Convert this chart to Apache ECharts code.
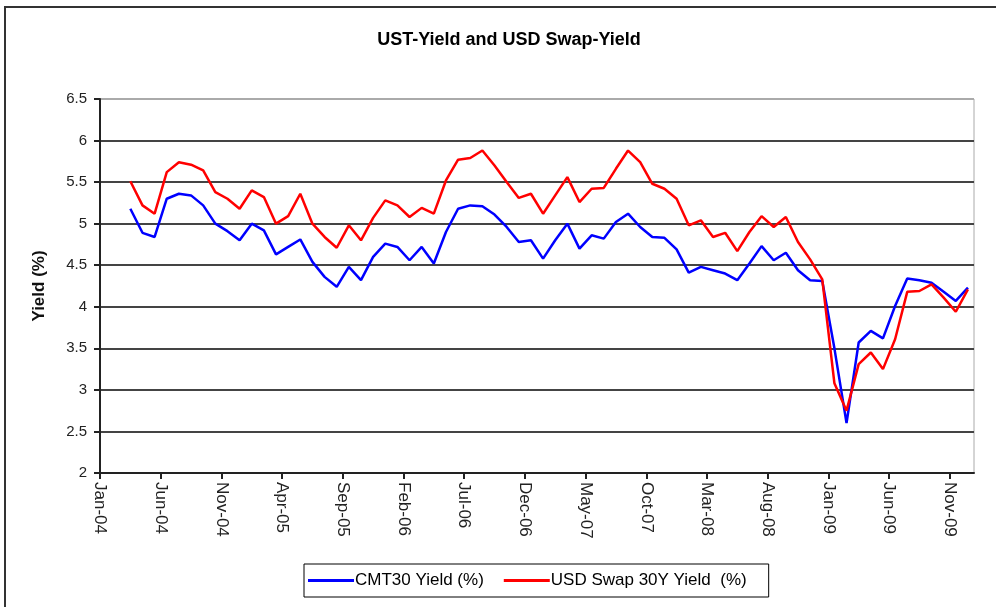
<!DOCTYPE html>
<html>
<head>
<meta charset="utf-8">
<title>UST-Yield and USD Swap-Yield</title>
<script src="https://cdn.jsdelivr.net/npm/echarts@6/dist/echarts.min.js"></script>
<style>
  html, body { margin: 0; padding: 0; background: #fff; }
  #chart { width: 996px; height: 607px; }
</style>
</head>
<body>
<div id="chart"></div>
<script>
// monthly observations, Mar-04 .. Dec-09
var months = [
  'Mar-04', 'Apr-04', 'May-04', 'Jun-04', 'Jul-04', 'Aug-04', 'Sep-04', 'Oct-04', 'Nov-04', 'Dec-04',
  'Jan-05', 'Feb-05', 'Mar-05', 'Apr-05', 'May-05', 'Jun-05', 'Jul-05', 'Aug-05', 'Sep-05', 'Oct-05', 'Nov-05', 'Dec-05',
  'Jan-06', 'Feb-06', 'Mar-06', 'Apr-06', 'May-06', 'Jun-06', 'Jul-06', 'Aug-06', 'Sep-06', 'Oct-06', 'Nov-06', 'Dec-06',
  'Jan-07', 'Feb-07', 'Mar-07', 'Apr-07', 'May-07', 'Jun-07', 'Jul-07', 'Aug-07', 'Sep-07', 'Oct-07', 'Nov-07', 'Dec-07',
  'Jan-08', 'Feb-08', 'Mar-08', 'Apr-08', 'May-08', 'Jun-08', 'Jul-08', 'Aug-08', 'Sep-08', 'Oct-08', 'Nov-08', 'Dec-08',
  'Jan-09', 'Feb-09', 'Mar-09', 'Apr-09', 'May-09', 'Jun-09', 'Jul-09', 'Aug-09', 'Sep-09', 'Oct-09', 'Nov-09', 'Dec-09'
]

var cmt30 = [
  5.18, 4.89, 4.84, 5.30, 5.36, 5.34, 5.22, 5.00, 4.91, 4.80,
  5.00, 4.92, 4.63, 4.72, 4.81, 4.54, 4.36, 4.24, 4.48, 4.32, 4.60, 4.76,
  4.72, 4.56, 4.72, 4.52, 4.90, 5.18, 5.22, 5.21, 5.11, 4.96, 4.78, 4.80,
  4.58, 4.80, 5.00, 4.70, 4.86, 4.82, 5.02, 5.12, 4.96, 4.84, 4.83, 4.69,
  4.41, 4.48, 4.44, 4.40, 4.32, 4.52, 4.73, 4.56, 4.65, 4.44, 4.32, 4.31,
  3.50, 2.60, 3.57, 3.71, 3.62, 4.01, 4.34, 4.32, 4.29, 4.18, 4.07, 4.23
]

var swap30 = [
  5.51, 5.22, 5.12, 5.62, 5.74, 5.71, 5.64, 5.38, 5.30, 5.18,
  5.40, 5.32, 5.00, 5.09, 5.36, 5.00, 4.84, 4.71, 4.98, 4.80, 5.07, 5.28,
  5.22, 5.08, 5.19, 5.12, 5.52, 5.77, 5.79, 5.88, 5.70, 5.50, 5.31, 5.36,
  5.12, 5.34, 5.56, 5.26, 5.42, 5.43, 5.66, 5.88, 5.74, 5.48, 5.42, 5.30,
  4.98, 5.04, 4.84, 4.89, 4.67, 4.90, 5.09, 4.96, 5.08, 4.78, 4.57, 4.33,
  3.08, 2.75, 3.31, 3.45, 3.25, 3.61, 4.18, 4.19, 4.27, 4.11, 3.94, 4.21
]

// x axis ticks, every 5 months from Jan-04
var tickLabels = [
  'Jan-04', 'Jun-04', 'Nov-04', 'Apr-05', 'Sep-05', 'Feb-06', 'Jul-06', 'Dec-06',
  'May-07', 'Oct-07', 'Mar-08', 'Aug-08', 'Jan-09', 'Jun-09', 'Nov-09'
]

var monthNames = ['Jan', 'Feb', 'Mar', 'Apr', 'May', 'Jun', 'Jul', 'Aug', 'Sep', 'Oct', 'Nov', 'Dec']

// months since Jan-04 (label start of month)
function monthIndex (label) {
  var parts = label.split('-')
  return monthNames.indexOf(parts[0]) + (parseInt(parts[1], 10) - 4) * 12
}

// points sit in the middle of their month
function toPoints (values) {
  return values.map(function (v, i) {
    return [monthIndex(months[i]) + 0.5, v]
  })
}

var tickValues = tickLabels.map(monthIndex)

var font = 'Liberation Sans, Arial, sans-serif'

var chart = echarts.init(document.getElementById('chart'))
chart.setOption(getOptions())

function getOptions () {
  return {
    animation: false,
    backgroundColor: '#fff',
    graphic: [{
      type: 'rect',
      shape: { x: 5, y: 7, width: 1000, height: 620 },
      style: { fill: 'none', stroke: '#333', lineWidth: 2 },
      silent: true
    }],
    title: {
      text: 'UST-Yield and USD Swap-Yield',
      left: 504,
      top: 26,
      textAlign: 'center',
      textStyle: { fontFamily: font, fontSize: 18, fontWeight: 'bold', color: '#000' }
    },
    legend: {
      left: 304,
      top: 564,
      padding: [8, 22, 8, 4],
      borderColor: '#000',
      borderWidth: 1,
      itemWidth: 46,
      itemHeight: 3,
      itemGap: 20,
      icon: 'rect',
      textStyle: { fontFamily: font, fontSize: 17, color: '#000', padding: [0, 0, 0, -4] },
      data: ['CMT30 Yield (%)', 'USD Swap 30Y Yield  (%)']
    },
    grid: {
      left: 100,
      right: 22,
      top: 99,
      bottom: 134,
      show: true,
      borderColor: '#aaa',
      borderWidth: 1
    },
    xAxis: {
      type: 'value',
      min: 0,
      max: 72,
      interval: 5,
      axisLine: { lineStyle: { color: '#222', width: 2 } },
      axisTick: { show: true, length: 6, customValues: tickValues, lineStyle: { color: '#222', width: 2 } },
      splitLine: { show: false },
      axisLabel: {
        rotate: -90,
        margin: 9,
        fontFamily: font,
        fontSize: 17,
        color: '#222',
        customValues: tickValues,
        formatter: function (val) {
          var i = tickValues.indexOf(val)
          return i >= 0 ? tickLabels[i] : ''
        }
      }
    },
    yAxis: {
      type: 'value',
      min: 2,
      max: 6.5,
      interval: 0.5,
      name: 'Yield (%)',
      nameLocation: 'middle',
      nameRotate: 90,
      nameGap: 52,
      nameTextStyle: { fontFamily: font, fontSize: 17, fontWeight: 'bold', color: '#111' },
      axisLine: { show: true, lineStyle: { color: '#222', width: 2 } },
      axisTick: { show: true, length: 6, lineStyle: { color: '#222', width: 2 } },
      axisLabel: { margin: 13, fontFamily: font, fontSize: 15, color: '#222' },
      splitLine: {
        show: true,
        lineStyle: {
          color: ['#444', '#444', '#444', '#444', '#444', '#444', '#444', '#444', '#444', '#aaa'],
          width: 2
        }
      }
    },
    series: [{
      name: 'CMT30 Yield (%)',
      type: 'line',
      showSymbol: false,
      symbol: 'none',
      lineStyle: { color: '#0000ff', width: 2.5 },
      itemStyle: { color: '#0000ff' },
      data: toPoints(cmt30)
    }, {
      name: 'USD Swap 30Y Yield  (%)',
      type: 'line',
      showSymbol: false,
      symbol: 'none',
      lineStyle: { color: '#ff0000', width: 2.5 },
      itemStyle: { color: '#ff0000' },
      data: toPoints(swap30)
    }]
  }
}
</script>
</body>
</html>
